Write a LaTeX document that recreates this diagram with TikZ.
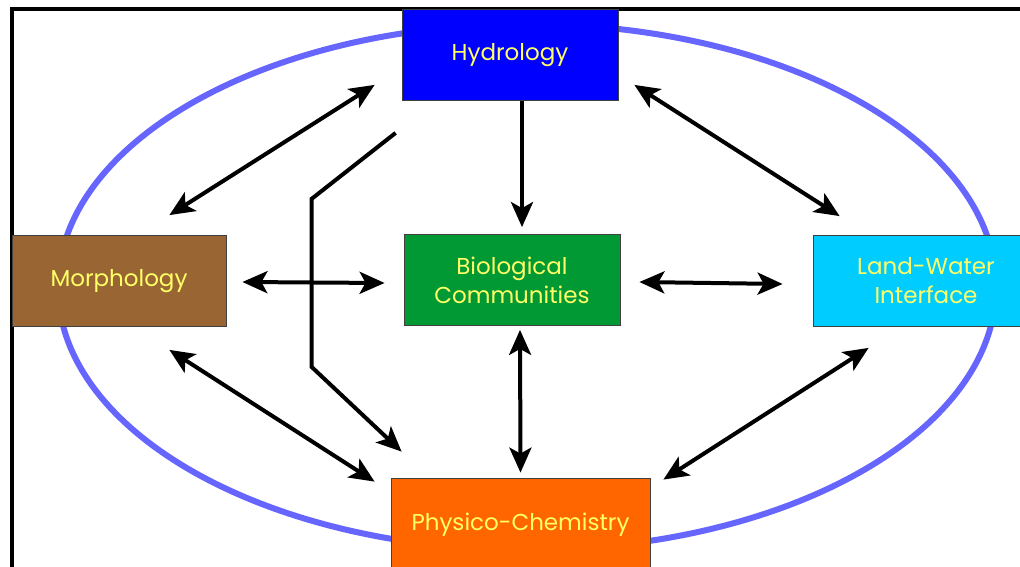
\documentclass[tikz,border=0pt]{standalone}
\usepackage{fontspec}
\setmainfont{Poppins}
\usepackage{xcolor}
\usepackage{tikz}
\usetikzlibrary{arrows.meta}

\definecolor{hydblue}{HTML}{0000FF}
\definecolor{morbrown}{HTML}{996633}
\definecolor{biogreen}{HTML}{009933}
\definecolor{lwicyan}{HTML}{00CCFF}
\definecolor{phyorange}{HTML}{FF6600}
\definecolor{labelyellow}{HTML}{FFFF66}
\definecolor{ringblue}{HTML}{6666FF}

\begin{document}
\begin{tikzpicture}[x=1pt,y=-1pt,
  box/.style={draw=black!75, line width=0.8pt, text=labelyellow, align=center,
    minimum width=216pt, minimum height=91pt, inner sep=0pt,
    font=\fontsize{23}{29}\selectfont},
  tip/.tip={Stealth[length=25pt,width=22pt,inset=6pt]},
  link/.style={line width=4pt, -tip},
  both/.style={line width=4pt, tip-tip}]
\useasboundingbox (0,0) rectangle (1020,567);
\clip (0,0) rectangle (1020,567);

\draw[ringblue, line width=6pt] (527,287) ellipse [x radius=469, y radius=263];
\draw[line width=4pt] (1020,9) -- (12,9) -- (12,567);

\node[box, fill=hydblue] (hyd) at (510,55) {Hydrology};
\node[box, fill=morbrown, minimum width=214pt] (mor) at (119,281) {Morphology};
\node[box, fill=biogreen] (bio) at (512,280) {Biological\\Communities};
\node[box, fill=lwicyan, minimum width=226pt] (lwi) at (926,281) {Land-Water\\Interface};
\node[box, fill=phyorange, minimum width=259pt, minimum height=94pt] (phy) at (520.5,525) {Physico-Chemistry};

\draw[both] ([shift={(-27,-16)}]hyd.south west) -- ([shift={(-57,-20)}]mor.north east);
\draw[link] ([shift={(12,0)}]hyd.south) -- ([shift={(10,-7)}]bio.north);
\draw[both] ([shift={(16,-16)}]hyd.south east) -- ([shift={(27,-19)}]lwi.north west);
\draw[both] ([shift={(16,1)}]mor.east) -- ([shift={(-19,3)}]bio.west);
\draw[both] ([shift={(19,2)}]bio.east) -- ([shift={(-30,3)}]lwi.west);
\draw[both] ([shift={(-57,23)}]mor.south east) -- ([shift={(-16,4)}]phy.north west);
\draw[both] ([shift={(8,4)}]bio.south) -- ([shift={(0,-5)}]phy.north);
\draw[both] ([shift={(56,21)}]lwi.south west) -- ([shift={(13,2)}]phy.north east);
\draw[link] ([shift={(-6,32)}]hyd.south west) -- ++(-84,66) -- ++(0,168)
  -- ([shift={(11,-26)}]phy.north west);
\end{tikzpicture}
\end{document}
